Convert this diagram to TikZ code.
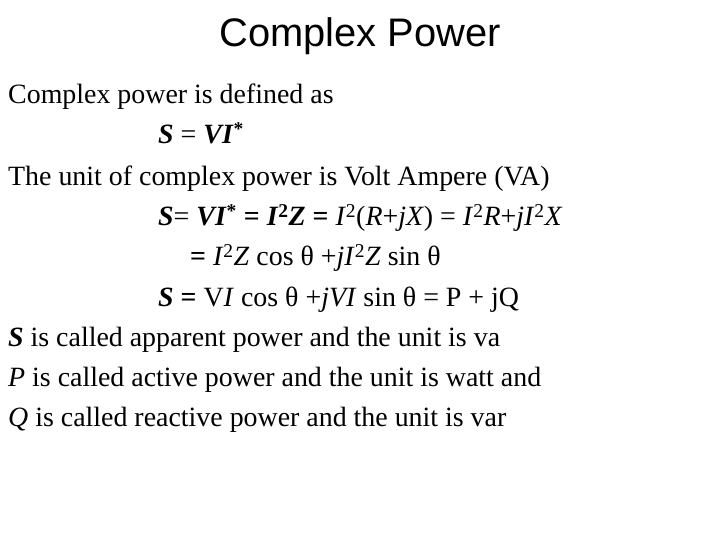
\documentclass[tikz,border=0pt]{standalone}
\usepackage{fontspec}
\setmainfont{Liberation Serif}
\newfontfamily\titlefont{Liberation Sans}
\begin{document}
\begin{tikzpicture}[x=1bp,y=-1bp,
  txt/.style={anchor=base west,inner sep=0pt,font=\fontsize{28}{32}\selectfont}]
\useasboundingbox (0,0) rectangle (720,540);
\node[anchor=center,inner sep=0pt,font=\titlefont\fontsize{40}{44}\selectfont] (title) at (360,36) {Complex Power};
\node[txt] (l1) at (8,104) {Complex power is defined as};
\node[txt] (l2) at (158,144) {\textbf{\textit{S}} = \textbf{\textit{VI}}\textsuperscript{\textbf{*}}};
\node[txt] (l3) at (8,186) {The unit of complex power is Volt Ampere (VA)};
\node[txt] (l4) at (158,226) {\textbf{\textit{S}}= \textbf{\textit{VI}}\textsuperscript{\textbf{*}} \textbf{=} \textbf{\textit{I}}\textsuperscript{\textbf{2}}\textbf{\textit{Z}} \textbf{=} \textit{I}\textsuperscript{2}(\textit{R}+\textit{jX}) = \textit{I}\textsuperscript{2}\textit{R}+\textit{jI}\textsuperscript{2}\textit{X}};
\node[txt] (l5) at (190,266) {\textbf{=} \textit{I}\textsuperscript{2}\textit{Z} cos θ +\textit{jI}\textsuperscript{2}\textit{Z} sin θ};
\node[txt] (l6) at (158,306) {\textbf{\textit{S}} \textbf{=} V\textit{I} cos θ +\textit{jVI} sin θ = P + jQ};
\node[txt] (l7) at (8,346) {\textbf{\textit{S}} is called apparent power and the unit is va};
\node[txt] (l8) at (8,386) {\textit{P} is called active power and the unit is watt and};
\node[txt] (l9) at (8,426) {\textit{Q} is called reactive power and the unit is var};
\end{tikzpicture}
\end{document}
